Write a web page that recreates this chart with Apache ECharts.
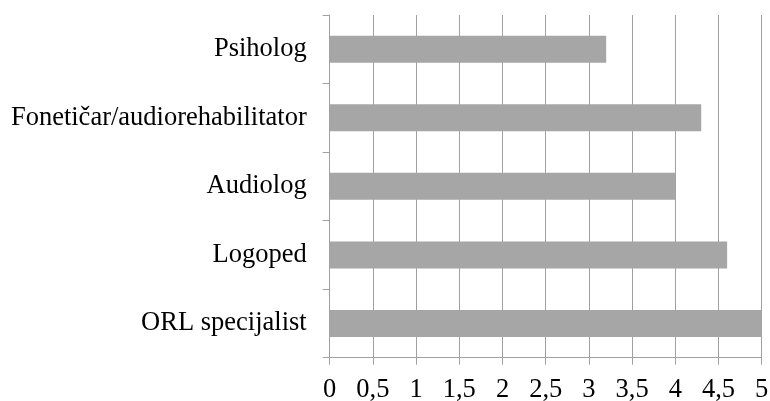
<!DOCTYPE html>
<html>
<head>
<meta charset="utf-8">
<script src="https://cdn.jsdelivr.net/npm/echarts@6/dist/echarts.min.js"></script>
<style>html,body{margin:0;padding:0;background:#fff}#c{width:770px;height:401px}</style>
</head>
<body>
<div id="c"></div>
<script>
var categories = ["ORL specijalist", "Logoped", "Audiolog", "Fonetičar/audiorehabilitator", "Psiholog"];
var values = [5, 4.6, 4.0, 4.3, 3.2];

var chart = echarts.init(document.getElementById('c'), null, {renderer: 'canvas'});
var font = '"Liberation Serif", "Times New Roman", serif';
chart.setOption({
  animation: false,
  grid: {left: 329.7, right: 8.3, top: 15, bottom: 43.3, containLabel: false, outerBoundsMode: 'none'},
  xAxis: {
    type: 'value', min: 0, max: 5, interval: 0.5,
    axisLine: {show: true, lineStyle: {color: '#a0a0a0', width: 1}},
    axisTick: {show: true, length: 7, lineStyle: {color: '#a0a0a0'}},
    splitLine: {show: true, lineStyle: {color: '#a0a0a0', width: 1}},
    axisLabel: {
      margin: 19, color: '#000', fontFamily: font, fontSize: 26.5,
      formatter: function (v) { return String(v).replace('.', ','); }
    }
  },
  yAxis: {
    type: 'category', data: categories, boundaryGap: true,
    axisLine: {show: true, lineStyle: {color: '#a0a0a0', width: 1}},
    axisTick: {show: true, length: 7, lineStyle: {color: '#a0a0a0'}},
    splitLine: {show: false},
    axisLabel: {margin: 23, color: '#000', fontFamily: font, fontSize: 26.5}
  },
  series: [{
    type: 'bar', data: values, barWidth: 27,
    itemStyle: {color: '#a6a6a6'}
  }]
});
</script>
</body>
</html>
